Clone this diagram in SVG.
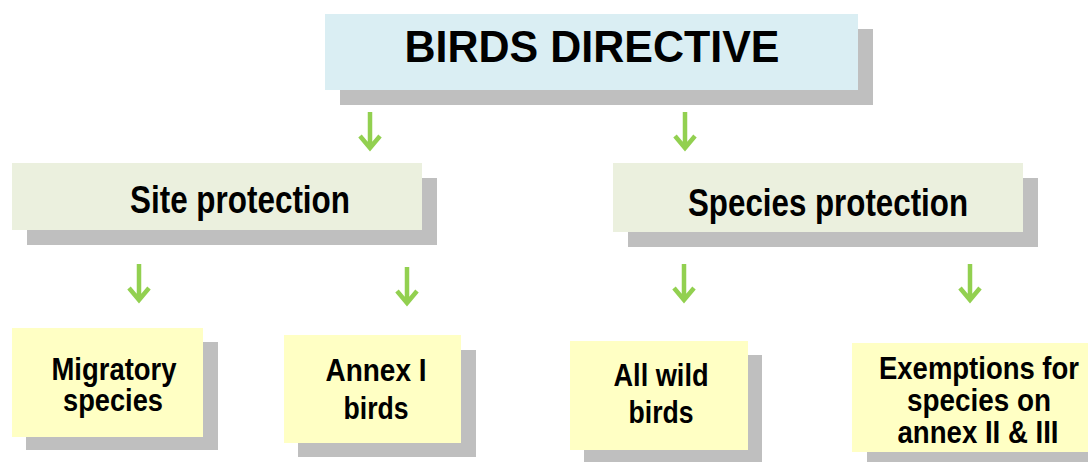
<svg xmlns="http://www.w3.org/2000/svg" width="1088" height="462" viewBox="0 0 1088 462">
<defs>
<style>
.sh{fill:#BFBFBF}
.t{font-family:"Liberation Sans",Arial,sans-serif;font-weight:bold;fill:#000;text-anchor:middle}
.arr{stroke:#92D050;stroke-width:4.5;fill:none;stroke-linecap:butt;stroke-linejoin:miter}
</style>
</defs>
<rect width="1088" height="462" fill="#fff"/>
<g id="connectors">
<path class="arr" d="M370 112V148M360 136L370 148L380 136"/>
<path class="arr" d="M685 112V148M675 136L685 148L695 136"/>
<path class="arr" d="M139 264V300M129 288L139 300L149 288"/>
<path class="arr" d="M407 267V303M397 291L407 303L417 291"/>
<path class="arr" d="M684 264V300M674 288L684 300L694 288"/>
<path class="arr" d="M970 264V300M960 288L970 300L980 288"/>
</g>
<g id="birds-directive">
<rect class="sh" x="340" y="29" width="533" height="76"/>
<rect x="325" y="14" width="533" height="76" fill="#DAEEF3"/>
<text class="t" x="592" y="62" font-size="44" textLength="375" lengthAdjust="spacingAndGlyphs">BIRDS DIRECTIVE</text>
</g>
<g id="site-protection">
<rect class="sh" x="27" y="178" width="410" height="67"/>
<rect x="12" y="163" width="410" height="67" fill="#EBF0DE"/>
<text class="t" x="240" y="213" font-size="38" textLength="220" lengthAdjust="spacingAndGlyphs">Site protection</text>
</g>
<g id="species-protection">
<rect class="sh" x="628" y="178" width="410" height="69"/>
<rect x="613" y="163" width="410" height="69" fill="#EBF0DE"/>
<text class="t" x="828" y="216" font-size="38" textLength="280" lengthAdjust="spacingAndGlyphs">Species protection</text>
</g>
<g id="migratory-species">
<rect class="sh" x="26" y="342" width="192" height="108"/>
<rect x="12" y="328" width="191" height="109" fill="#FFFFC4"/>
<text class="t" font-size="31"><tspan x="114" y="380" textLength="125" lengthAdjust="spacingAndGlyphs">Migratory</tspan><tspan x="113" y="411" textLength="100" lengthAdjust="spacingAndGlyphs">species</tspan></text>
</g>
<g id="annex-i-birds">
<rect class="sh" x="298" y="350" width="178" height="107"/>
<rect x="284" y="335" width="177" height="108" fill="#FFFFC4"/>
<text class="t" font-size="32"><tspan x="376" y="381" textLength="101" lengthAdjust="spacingAndGlyphs">Annex I</tspan><tspan x="376" y="419" textLength="65" lengthAdjust="spacingAndGlyphs">birds</tspan></text>
</g>
<g id="all-wild-birds">
<rect class="sh" x="584" y="355" width="178" height="110"/>
<rect x="570" y="341" width="178" height="109" fill="#FFFFC4"/>
<text class="t" font-size="32"><tspan x="661" y="386" textLength="95" lengthAdjust="spacingAndGlyphs">All wild</tspan><tspan x="661" y="423" textLength="65" lengthAdjust="spacingAndGlyphs">birds</tspan></text>
</g>
<g id="exemptions">
<rect class="sh" x="867" y="357" width="230" height="110"/>
<rect x="852" y="343" width="240" height="109" fill="#FFFFC4"/>
<text class="t" font-size="31"><tspan x="979" y="379" textLength="200" lengthAdjust="spacingAndGlyphs">Exemptions for</tspan><tspan x="979" y="411" textLength="144" lengthAdjust="spacingAndGlyphs">species on</tspan><tspan x="978" y="443" textLength="161" lengthAdjust="spacingAndGlyphs">annex II &amp; III</tspan></text>
</g>
</svg>
